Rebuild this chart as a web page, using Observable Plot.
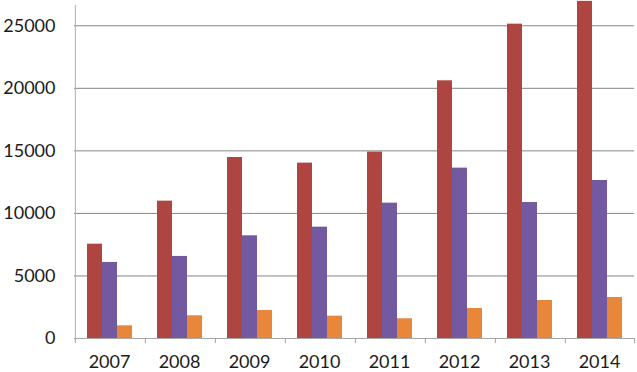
<!DOCTYPE html>
<html>
<head>
<meta charset="utf-8">
<script src="https://cdn.jsdelivr.net/npm/d3@7"></script>
<script src="https://cdn.jsdelivr.net/npm/@observablehq/plot@0.6"></script>
<style>
  html, body { margin: 0; padding: 0; background: #fff; }
</style>
</head>
<body>
<div id="chart"></div>
<script>
const years = ["2007", "2008", "2009", "2010", "2011", "2012", "2013", "2014"];
const series1 = [7540, 10980, 14470, 14020, 14900, 20600, 25130, 26950];
const series2 = [6080, 6560, 8210, 8900, 10820, 13620, 10870, 12630];
const series3 = [1015, 1815, 2240, 1785, 1575, 2400, 3040, 3280];
const seriesNames = ["Series 1", "Series 2", "Series 3"];
const seriesColors = ["#AF4541", "#7359A0", "#E8873A"];
const yTicks = [0, 5000, 10000, 15000, 20000, 25000];

const rows = [];
years.forEach((y, i) => {
  rows.push({year: y, series: seriesNames[0], value: series1[i]});
  rows.push({year: y, series: seriesNames[1], value: series2[i]});
  rows.push({year: y, series: seriesNames[2], value: series3[i]});
});

const W = 637, H = 372, mL = 71, mR = 1, mT = 0, mB = 34;
const yMax = 27020;
const padOuter = 0.754;
const step = (W - mL - mR) / years.length;
const bw = step / (seriesNames.length + 2 * padOuter);
const edge = padOuter * bw + bw / 2;

const leftTicks = years.map(y => ({year: y}));
const lastYear = years[years.length - 1];

const chart = Plot.plot({
  width: W,
  height: H,
  marginLeft: mL,
  marginRight: mR,
  marginTop: mT,
  marginBottom: mB,
  style: {fontFamily: "Lato, 'Open Sans', sans-serif", fontSize: "18px", color: "#1a1a1a", background: "#fff"},
  fx: {domain: years, padding: 0, axis: "bottom", tickSize: 0, tickPadding: 17, label: null},
  x: {domain: seriesNames, paddingInner: 0, paddingOuter: padOuter, axis: null},
  y: {domain: [0, yMax], ticks: yTicks, tickFormat: d3.format("d"), tickSize: 0, tickPadding: 19, label: null},
  color: {domain: seriesNames, range: seriesColors},
  marks: [
    Plot.gridY(yTicks, {stroke: "#858585", strokeOpacity: 1}),
    Plot.barY(rows, {fx: "year", x: "series", y: "value", fill: "series"}),
    Plot.ruleY([0], {stroke: "#a8a8a8"}),
    Plot.ruleX([{year: years[0]}], {fx: "year", x: () => seriesNames[0], y1: 0, y2: yMax, dx: -edge, insetBottom: -5, stroke: "#b0b0b0"}),
    Plot.ruleX(leftTicks, {fx: "year", x: () => seriesNames[0], y1: 0, y2: 0, dx: -edge, insetBottom: -5, stroke: "#a0a0a0"}),
    Plot.ruleX([{year: lastYear}], {fx: "year", x: () => seriesNames[2], y1: 0, y2: 0, dx: edge, insetBottom: -5, stroke: "#a0a0a0"})
  ]
});
document.getElementById("chart").appendChild(chart);
</script>
</body>
</html>
